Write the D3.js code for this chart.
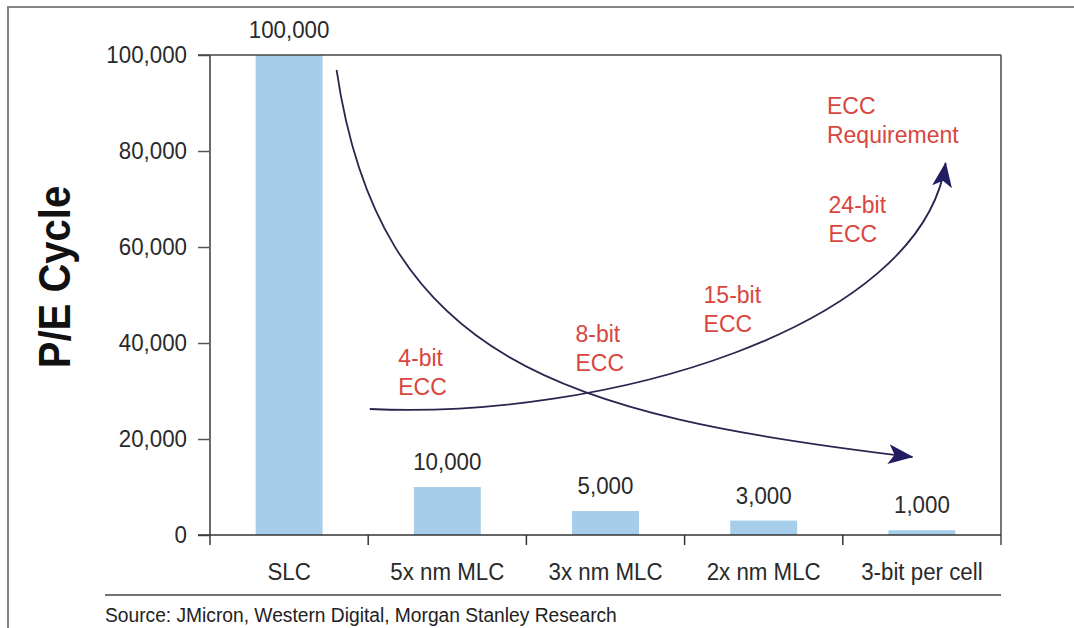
<!DOCTYPE html>
<html><head><meta charset="utf-8">
<script src="https://cdn.jsdelivr.net/npm/d3@7"></script>
<style>
html,body{margin:0;padding:0;background:#fff;}
svg{display:block;font-family:"Liberation Sans",Arial,Helvetica,sans-serif;}
</style></head><body>
<svg id="chart" width="1074" height="628"></svg>
<script>
// NAND flash endurance by cell generation
const categories = ["SLC", "5x nm MLC", "3x nm MLC", "2x nm MLC", "3-bit per cell"];
const peCycles = [100000, 10000, 5000, 3000, 1000];
const yTicks = [0, 20000, 40000, 60000, 80000, 100000];
const yTitle = "P/E Cycle";
const sourceNote = "Source: JMicron, Western Digital, Morgan Stanley Research";

// Trend arrows as cubic Bezier control points: [category position, P/E value]
const enduranceTrend = [[0.80, 96900], [1.07, 36460], [2.21, 25000], [4.44, 16250]];
const eccTrend = [[1.01, 26250], [2.47, 23960], [4.49, 42710], [4.65, 77500]];
const eccLabelText = [["4-bit", "ECC"], ["8-bit", "ECC"], ["15-bit", "ECC"], ["24-bit", "ECC"], ["ECC", "Requirement"]];
const eccLabelAnchor = [[1.19, 35210], [2.31, 40210], [3.12, 48330], [3.91, 67080], [3.90, 87710]];

const svg = d3.select("#chart");
const plot = {left: 210, right: 1001, top: 55, bottom: 535};
const squeeze = 0.93;

const x = d3.scaleBand().domain(categories).range([plot.left, plot.right])
  .paddingInner(0.577).paddingOuter(0.2885);
const pos = d3.scaleLinear().domain([0, categories.length]).range([plot.left, plot.right]);
const y = d3.scaleLinear().domain([0, 100000]).range([plot.bottom, plot.top]);

// outer frame
svg.append("path").attr("d", "M8,628V7H1074").attr("fill", "none")
  .attr("stroke", "#858585").attr("stroke-width", 2);

// bars
svg.append("g").selectAll("rect").data(categories).join("rect")
  .attr("x", d => x(d)).attr("width", x.bandwidth())
  .attr("y", (d, i) => y(peCycles[i]))
  .attr("height", (d, i) => y(0) - y(peCycles[i]))
  .attr("fill", "#a6cde9");

// y axis
const yAxis = svg.append("g").attr("transform", `translate(${plot.left},0)`)
  .call(d3.axisLeft(y).tickValues(yTicks).tickSize(12).tickPadding(11).tickFormat(d3.format(",")));
yAxis.select(".domain").remove();
yAxis.selectAll(".tick line").attr("stroke", "#555").attr("stroke-width", 1.5);
yAxis.selectAll(".tick text").attr("x", 0)
  .attr("transform", `translate(-23,0) scale(${squeeze},1)`)
  .attr("font-size", 24).attr("fill", "#2a2a2a").attr("font-family", null);

// plot frame lines
svg.append("line").attr("x1", plot.left).attr("x2", plot.left).attr("y1", plot.top).attr("y2", plot.bottom + 10)
  .attr("stroke", "#6a6a6a").attr("stroke-width", 2);
svg.append("line").attr("x1", plot.right).attr("x2", plot.right).attr("y1", plot.top).attr("y2", plot.bottom + 10)
  .attr("stroke", "#777").attr("stroke-width", 2);
svg.append("line").attr("x1", plot.left - 12).attr("x2", plot.right).attr("y1", plot.top).attr("y2", plot.top)
  .attr("stroke", "#444").attr("stroke-width", 1.5);
svg.append("line").attr("x1", plot.left - 12).attr("x2", plot.right).attr("y1", plot.bottom).attr("y2", plot.bottom)
  .attr("stroke", "#333").attr("stroke-width", 1.5);

// category boundary ticks
svg.append("g").selectAll("line").data(d3.range(1, categories.length)).join("line")
  .attr("x1", d => pos(d)).attr("x2", d => pos(d))
  .attr("y1", plot.bottom).attr("y2", plot.bottom + 10)
  .attr("stroke", "#333").attr("stroke-width", 1.5);

// x axis labels
const xAxis = svg.append("g").attr("transform", `translate(0,${plot.bottom})`)
  .call(d3.axisBottom(x).tickSize(0).tickPadding(28));
xAxis.select(".domain").remove();
xAxis.selectAll(".tick text").attr("transform", `scale(${squeeze},1)`)
  .attr("font-size", 24).attr("fill", "#2a2a2a").attr("font-family", null);

// value labels
svg.append("g").selectAll("text").data(categories).join("text")
  .attr("transform", (d, i) => `translate(${x(d) + x.bandwidth() / 2},${y(peCycles[i]) - 17}) scale(${squeeze},1)`)
  .attr("text-anchor", "middle").attr("font-size", 24).attr("fill", "#2a2a2a")
  .text((d, i) => d3.format(",")(peCycles[i]));

// arrowhead
svg.append("defs").append("marker").attr("id", "head")
  .attr("viewBox", "0 0 25 20").attr("refX", 24).attr("refY", 10)
  .attr("markerWidth", 25).attr("markerHeight", 20).attr("markerUnits", "userSpaceOnUse")
  .attr("orient", "auto")
  .append("path").attr("d", "M0,0L25,10L0,20L6,10Z").attr("fill", "#221d63");

// cubic Bezier through scaled control points
function bezier(cp) {
  const p = cp.map(d => [pos(d[0]), y(d[1])]);
  const path = d3.path();
  path.moveTo(p[0][0], p[0][1]);
  path.bezierCurveTo(p[1][0], p[1][1], p[2][0], p[2][1], p[3][0], p[3][1]);
  return path.toString();
}
svg.append("g").selectAll("path").data([enduranceTrend, eccTrend]).join("path")
  .attr("d", bezier).attr("fill", "none")
  .attr("stroke", "#28264f").attr("stroke-width", 1.8)
  .attr("marker-end", "url(#head)");

// ECC annotations
const ann = svg.append("g").attr("font-size", 23).attr("fill", "#d9463e");
eccLabelText.forEach((lines, i) => {
  const t = ann.append("text")
    .attr("x", pos(eccLabelAnchor[i][0])).attr("y", y(eccLabelAnchor[i][1]));
  lines.forEach((s, j) => {
    t.append("tspan").attr("x", pos(eccLabelAnchor[i][0])).attr("dy", j === 0 ? 0 : 29).text(s);
  });
});

// axis title
svg.append("text")
  .attr("transform", `translate(70,277) rotate(-90) scale(0.91,1)`)
  .attr("text-anchor", "middle").attr("font-size", 44).attr("font-weight", "bold")
  .attr("fill", "#111").text(yTitle);

// source rule and note
svg.append("line").attr("x1", 105).attr("x2", plot.right).attr("y1", 595).attr("y2", 595)
  .attr("stroke", "#444").attr("stroke-width", 1.5);
svg.append("text").attr("transform", "translate(105,622) scale(0.915,1)")
  .attr("font-size", 21).attr("fill", "#222").text(sourceNote);
</script>
</body></html>
